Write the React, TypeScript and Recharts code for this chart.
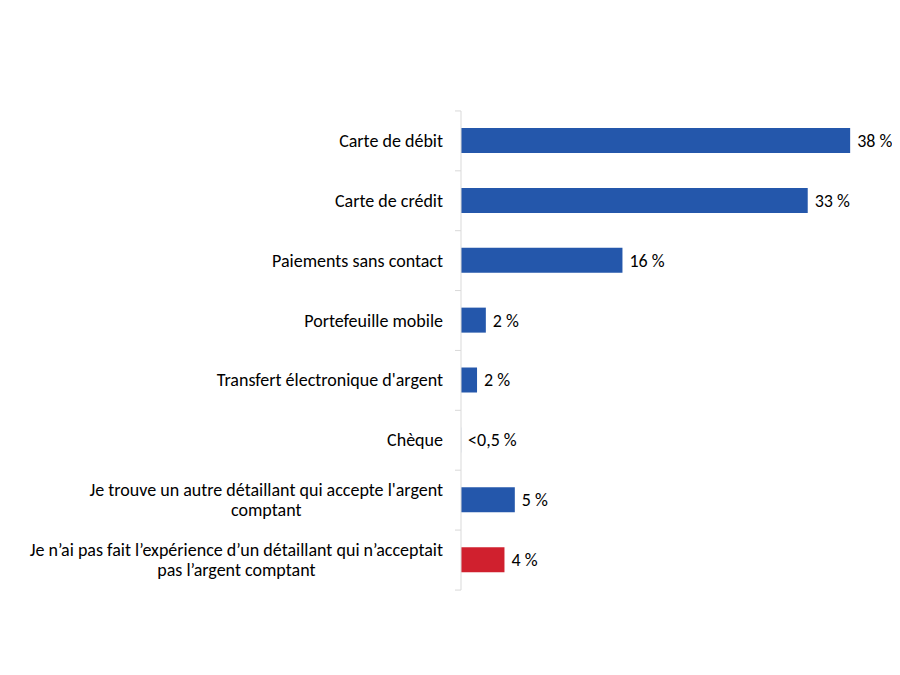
import { BarChart, Bar, XAxis, YAxis, Cell, LabelList } from 'recharts'

const CATEGORIES = [
  'Carte de débit',
  'Carte de crédit',
  'Paiements sans contact',
  'Portefeuille mobile',
  "Transfert électronique d'argent",
  'Chèque',
  "Je trouve un autre détaillant qui accepte l'argent\ncomptant",
  'Je n’ai pas fait l’expérience d’un détaillant qui n’acceptait\npas l’argent comptant',
]
const VALUES = [37.6, 33.5, 15.6, 2.4, 1.55, 0.01, 5.2, 4.2]
const VALUE_LABELS = ['38 %', '33 %', '16 %', '2 %', '2 %', '<0,5 %', '5 %', '4 %']

const BLUE = '#2457AB'
const RED = '#D0202E'
const GRID = '#D9D9D9'
const FONT = 'Carlito, Calibri, Lato, sans-serif'
const FS = 18

const DATA = CATEGORIES.map((name, i) => ({
  name,
  value: VALUES[i],
  label: VALUE_LABELS[i],
  color: i === CATEGORIES.length - 1 ? RED : BLUE,
}))

let ctx: CanvasRenderingContext2D | null = null
function textWidth(s: string) {
  if (!ctx) ctx = document.createElement('canvas').getContext('2d')
  if (!ctx) return s.length * 8
  ctx.font = `${FS}px ${FONT}`
  return ctx.measureText(s).width
}

function CategoryTick(props: any) {
  const { x, y, payload, index } = props
  const lines: string[] = String(payload.value).split('\n')
  const half = 30
  const right = x - 18
  const widest = Math.max(...lines.map(textWidth))
  const cx = lines.length > 1 ? right - widest / 2 : right
  const anchor = lines.length > 1 ? 'middle' : 'end'
  const lh = 20
  const y0 = y - ((lines.length - 1) * lh) / 2
  return (
    <g>
      <line x1={x - 6} x2={x} y1={y - half} y2={y - half} stroke={GRID} />
      {index === CATEGORIES.length - 1 && (
        <line x1={x - 6} x2={x} y1={y + half} y2={y + half} stroke={GRID} />
      )}
      <text
        x={cx}
        y={y0}
        textAnchor={anchor}
        dominantBaseline="central"
        fill="#000"
        fontSize={FS}
        fontFamily={FONT}
      >
        {lines.map((l, i) => (
          <tspan key={i} x={cx} dy={i === 0 ? 0 : lh}>
            {l}
          </tspan>
        ))}
      </text>
    </g>
  )
}

export default function App() {
  return (
    <div style={{ width: 884, height: 660 }}>
      <BarChart
        width={884}
        height={660}
        data={DATA}
        layout="vertical"
        margin={{ top: 103, right: 17, bottom: 78, left: 0 }}
      >
        <XAxis type="number" domain={[0, 40]} hide />
        <YAxis
          type="category"
          dataKey="name"
          width={453}
          axisLine={{ stroke: GRID }}
          tickLine={false}
          tickSize={0}
          tickMargin={0}
          interval={0}
          tick={<CategoryTick />}
        />
        <Bar dataKey="value" barSize={25} isAnimationActive={false}>
          {DATA.map((d, i) => (
            <Cell key={i} fill={d.color} />
          ))}
          <LabelList
            dataKey="label"
            position="right"
            offset={7}
            fill="#000"
            fontSize={FS}
            fontFamily={FONT}
          />
        </Bar>
      </BarChart>
    </div>
  )
}
